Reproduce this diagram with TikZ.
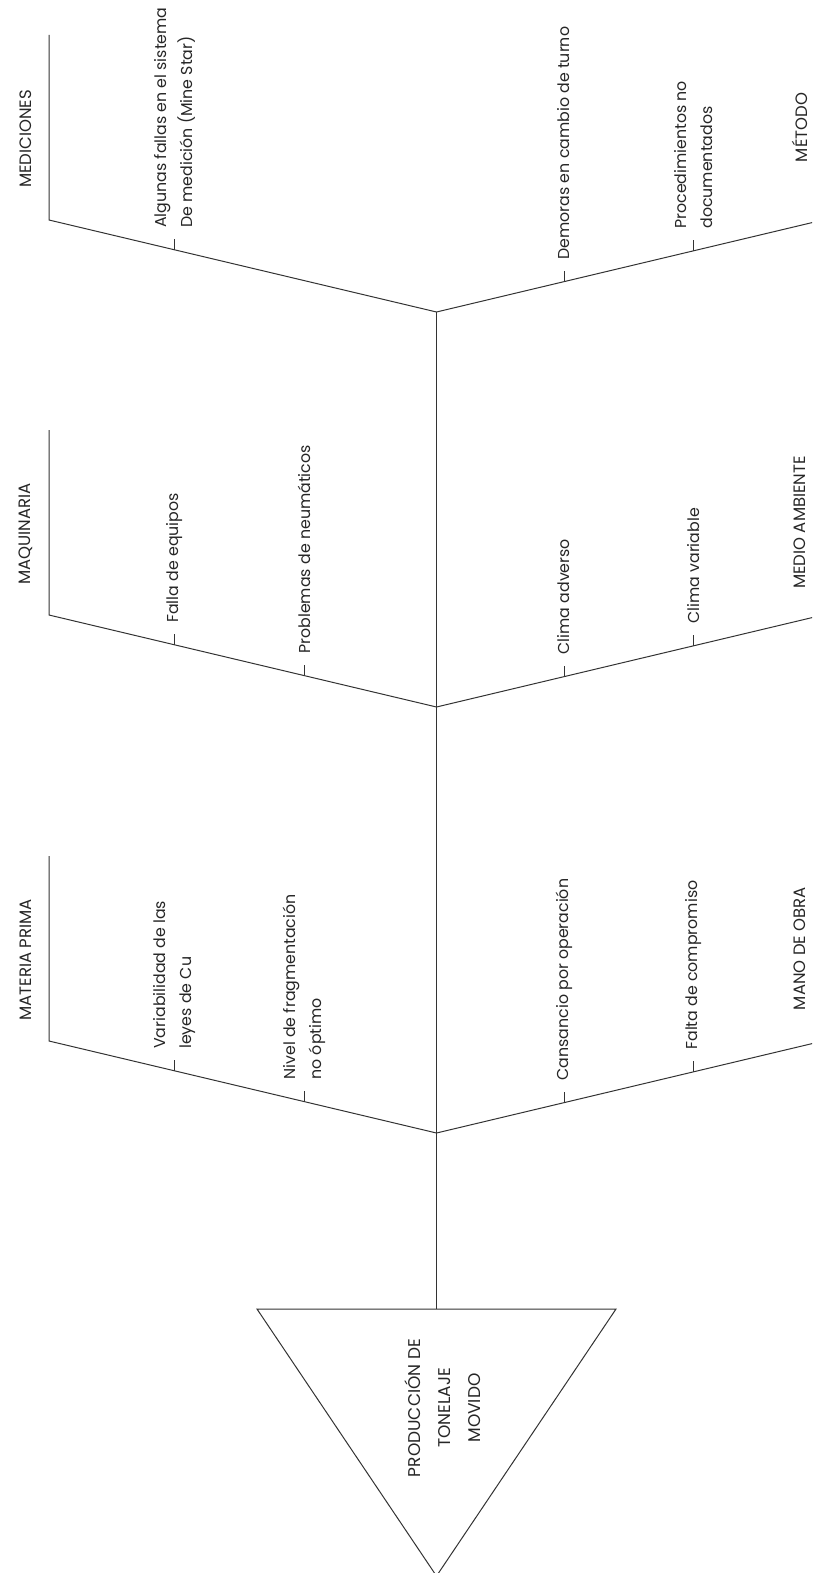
\documentclass[tikz,border=0pt]{standalone}
\usepackage{fontspec}
\setmainfont{Poppins}
\usetikzlibrary{calc}

\begin{document}
\begin{tikzpicture}[
  x=1pt, y=-1pt,
  font=\fontsize{16.5}{26}\selectfont,
  bone/.style={draw=black!80, line width=1pt},
  cause/.style={rotate=90, anchor=west, align=left, inner sep=0pt, text=black!85,
    font=\fontsize{15.8}{26}\selectfont},
  cat/.style={rotate=90, inner sep=0pt, text=black!85},
  headtxt/.style={rotate=90, align=center, inner sep=0pt, text=black!85,
    font=\fontsize{17}{30}\selectfont}
]
\useasboundingbox (0,0) rectangle (812,1573);
\clip (0,0) rectangle (812,1573);

% ---- head of the fish
\coordinate (hl) at (257,1309);
\coordinate (hr) at (616,1309);
\coordinate (hp) at (436.5,1576);
\coordinate (ht) at (436.5,1309);
\draw[bone] (hl) -- (hr) -- (hp) -- cycle;
\node[headtxt] (prod) at (443,1408) {PRODUCCIÓN DE\\TONELAJE\\MOVIDO};

% ---- the three pairs of bones on the spine
\foreach \g/\y in {1/312, 2/707, 3/1133}{
  \coordinate (j\g) at (436.5,\y);
  \coordinate (l\g) at (49,\y-92);
  \coordinate (t\g) at (49,\y-277);
  \coordinate (r\g) at (823,\y-92);
  \draw[bone] (t\g) -- (l\g) -- (j\g) -- (r\g);
}
\draw[bone] (j1) -- (ht);

% ---- category labels
\node[cat] (med) at (26,139)   {MEDICIONES};
\node[cat] (maq) at (26,534)   {MAQUINARIA};
\node[cat] (mat) at (26,960)   {MATERIA PRIMA};
\node[cat] (met) at (800,127.5) {MÉTODO};
\node[cat] (amb) at (800,522.5) {MEDIO AMBIENTE};
\node[cat] (mo)  at (800,948.5) {MANO DE OBRA};

% ---- causes, each on a small tick
\foreach \g/\s/\f/\nm/\txt in {
  1/l/0.675/ca/{Algunas fallas en el sistema\\De medición (Mine Star)},
  1/r/0.33/cb/{Demoras en cambio de turno},
  1/r/0.665/cc/{Procedimientos no\\documentados},
  2/l/0.675/cd/{Falla de equipos},
  2/l/0.34/ce/{Problemas de neumáticos},
  2/r/0.33/cf/{Clima adverso},
  2/r/0.665/cg/{Clima variable},
  3/l/0.675/ch/{Variabilidad de las\\leyes de Cu},
  3/l/0.34/ci/{Nivel de fragmentación\\no óptimo},
  3/r/0.33/cj/{Cansancio por operación},
  3/r/0.665/ck/{Falta de compromiso}}
{
  \coordinate (\nm0) at ($(j\g)!\f!(\s\g)$);
  \coordinate (\nm1) at ($(\nm0)+(0,-11)$);
  \draw[bone] (\nm0) -- (\nm1);
  \node[cause] (\nm) at ($(\nm1)+(0,-11)$) {\txt};
}

\end{tikzpicture}
\end{document}
